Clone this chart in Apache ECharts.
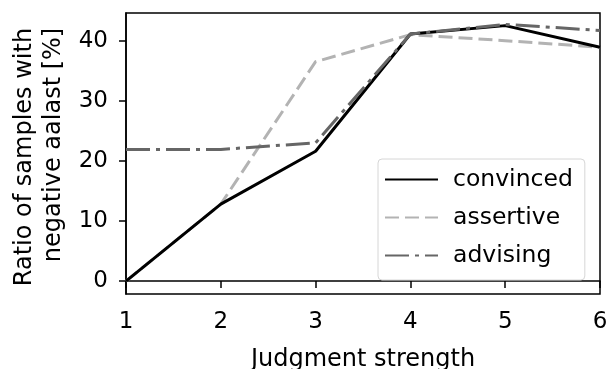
<!DOCTYPE html>
<html>
<head>
<meta charset="utf-8">
<script src="https://cdn.jsdelivr.net/npm/echarts@6/dist/echarts.min.js"></script>
<style>
  html, body { margin: 0; padding: 0; background: #fff; }
  #chart { width: 608px; height: 369px; }
</style>
</head>
<body>
<div id="chart"></div>
<script>
// judgment strength levels (x)
const strengths = [1, 2, 3, 4, 5, 6];
// ratio of samples with negative aalast [%]
const convinced = [0, 12.8, 21.6, 41.1, 42.5, 38.9];
const assertive = [0, 12.8, 36.5, 41.0, 40.0, 38.9];
const advising = [21.9, 21.9, 23.0, 41.1, 42.7, 41.7];
const yTicks = [0, 10, 20, 30, 40];
const yNameLines = ['Ratio of samples with', 'negative aalast [%]'];

const FONT = 'DejaVu Sans';

function pairs(ys) {
  return strengths.map((x, i) => [x, ys[i]]);
}

const chart = echarts.init(document.getElementById('chart'), null, { renderer: 'canvas' });

chart.setOption({
  animation: false,
  backgroundColor: '#fff',
  textStyle: { fontFamily: FONT, color: '#000' },
  grid: {
    left: 126, right: 8, top: 13, bottom: 75,
    outerBoundsMode: 'none',
    containLabel: false,
    show: true, borderColor: '#000', borderWidth: 1.5, backgroundColor: 'transparent'
  },
  // rotated y-axis title, one text per line
  graphic: yNameLines.map((line, i) => ({
    type: 'text',
    x: 25 + i * 29,
    y: i === 0 ? 157 : 145,
    rotation: Math.PI / 2,
    style: {
      text: line,
      fontFamily: FONT,
      fontSize: 24,
      fill: '#000',
      align: 'center',
      verticalAlign: 'middle'
    }
  })),
  legend: {
    orient: 'vertical',
    left: 378,
    top: 159,
    padding: [8, 12, 12, 6],
    itemWidth: 53,
    itemHeight: 14,
    itemGap: 13,
    backgroundColor: 'rgba(255,255,255,0.85)',
    borderColor: '#d6d6d6',
    borderWidth: 1,
    borderRadius: 4,
    itemStyle: { opacity: 0 },
    textStyle: { fontFamily: FONT, fontSize: 23.5, color: '#000', lineHeight: 25, padding: [0, 0, 0, 10] },
    data: ['convinced', 'assertive', 'advising']
  },
  xAxis: {
    type: 'value',
    min: 1, max: 6, interval: 1,
    name: 'Judgment strength',
    nameLocation: 'middle',
    nameGap: 54,
    nameTextStyle: { fontFamily: FONT, fontSize: 24, color: '#000' },
    axisLine: { show: true, lineStyle: { color: '#000', width: 1.5 } },
    axisTick: { show: true, inside: false, length: 7, lineStyle: { color: '#000', width: 1.5 } },
    axisLabel: { fontFamily: FONT, fontSize: 23, color: '#000', margin: 17 },
    splitLine: { show: false }
  },
  yAxis: {
    type: 'value',
    min: -2.15, max: 44.6,
    axisLine: { show: true, lineStyle: { color: '#000', width: 1.5 } },
    axisTick: { show: true, inside: false, length: 7, customValues: yTicks, lineStyle: { color: '#000', width: 1.5 } },
    axisLabel: { fontFamily: FONT, fontSize: 23, color: '#000', margin: 18, customValues: yTicks },
    splitLine: { show: false }
  },
  series: [
    {
      name: 'convinced', type: 'line', data: pairs(convinced),
      symbol: 'none', color: '#000',
      lineStyle: { color: '#000', width: 3, type: 'solid' }, z: 3
    },
    {
      name: 'assertive', type: 'line', data: pairs(assertive),
      symbol: 'none', color: '#b3b3b3',
      lineStyle: { color: '#b3b3b3', width: 3, type: [14, 6] }, z: 2
    },
    {
      name: 'advising', type: 'line', data: pairs(advising),
      symbol: 'none', color: '#666666',
      lineStyle: { color: '#666666', width: 3, type: [24, 6, 4, 6] }, z: 4
    }
  ]
});
</script>
</body>
</html>
